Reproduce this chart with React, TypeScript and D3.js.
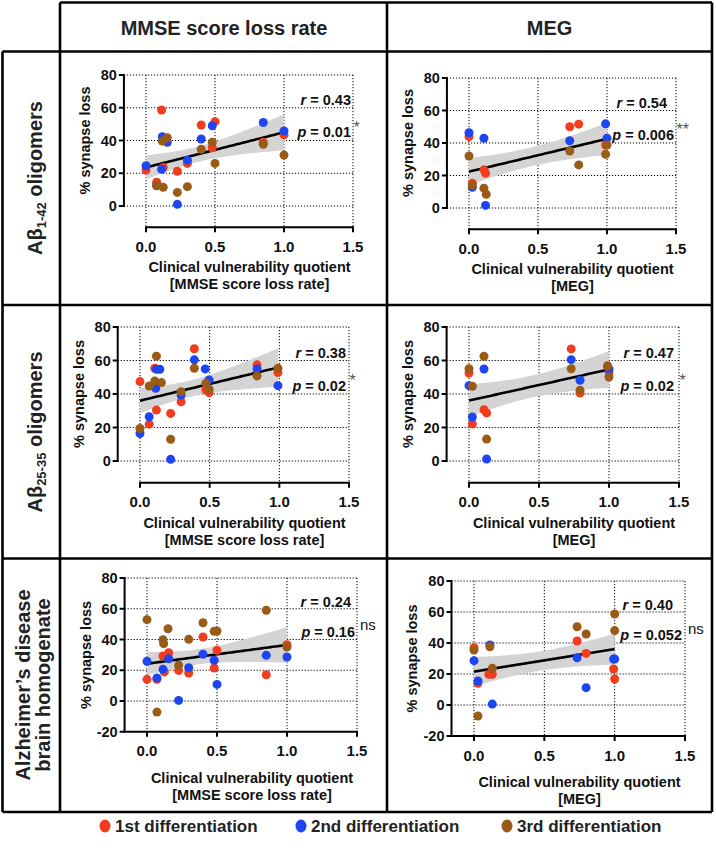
import React from "react";
import * as d3 from "d3";

type Pt = [number, number];

// ---------- labels ----------
const colHeaders = ["MMSE score loss rate", "MEG"];
const xTitleLine1 = "Clinical vulnerability quotient";
const xTitleLine2 = ["[MMSE score loss rate]", "[MEG]"];
const yTitle = "% synapse loss";
const seriesNames = ["1st differentiation", "2nd differentiation", "3rd differentiation"];
const seriesColors = ["#f23c1e", "#1d45f2", "#9a5b17"];
const xTicks = [0, 0.5, 1.0, 1.5];
const yTicksOffset = [0, 20, 40, 60, 80];
const yTicksCrossed = [-20, 0, 20, 40, 60, 80];
const rValues = ["0.43", "0.54", "0.38", "0.47", "0.24", "0.40"];
const pValues = ["0.01", "0.006", "0.02", "0.02", "0.16", "0.052"];
const sigMarks = ["*", "**", "*", "*", "ns", "ns"];

// ---------- data: [clinical vulnerability quotient, % synapse loss] ----------
// Row 1: Aβ1-42 oligomers
const ab42MmseRed: Pt[] = [[0, 22], [0.077, 14.5], [0.113, 58.6], [0.125, 23.5], [0.227, 21.2], [0.3, 26], [0.4, 49.5], [0.48, 35.6], [0.5, 51.5], [0.85, 39], [1.0, 43.4]];
const ab42MmseBlue: Pt[] = [[0, 24.6], [0.077, 12.4], [0.113, 22.4], [0.118, 42.3], [0.154, 38.9], [0.227, 1], [0.3, 28], [0.4, 40.9], [0.48, 49], [0.85, 51], [1.0, 45.8]];
const ab42MmseBrown: Pt[] = [[0.077, 12.8], [0.118, 39.7], [0.125, 11.4], [0.154, 41.7], [0.227, 8.3], [0.3, 11.8], [0.4, 34.6], [0.48, 38.9], [0.5, 26], [0.85, 37.7], [1.0, 31.1]];

const ab42MegRed: Pt[] = [[0, 43.9], [0.024, 15.3], [0.108, 23.5], [0.12, 21.4], [0.73, 50], [0.795, 51.6], [0.99, 38.8]];
const ab42MegBlue: Pt[] = [[0, 46.3], [0.024, 12.7], [0.108, 42.9], [0.12, 1.6], [0.73, 41.4], [0.99, 51.8], [1.0, 42.9]];
const ab42MegBrown: Pt[] = [[0, 32], [0.024, 13.9], [0.108, 12.2], [0.125, 8.4], [0.73, 35.1], [0.795, 26.5], [0.99, 33.1], [1.0, 38.8]];

// Row 2: Aβ25-35 oligomers
const ab25MmseRed: Pt[] = [[0, 47.4], [0.066, 22], [0.106, 55.4], [0.118, 30.4], [0.22, 28.4], [0.295, 35.4], [0.39, 67], [0.473, 42.4], [0.496, 40.8], [0.84, 57.4], [0.99, 52.8]];
const ab25MmseBlue: Pt[] = [[0, 16.4], [0.066, 26.4], [0.113, 43.4], [0.118, 54.8], [0.142, 54.8], [0.22, 1], [0.295, 39.4], [0.39, 60.4], [0.468, 55], [0.496, 48.4], [0.84, 55], [0.99, 45]];
const ab25MmseBrown: Pt[] = [[0, 19.4], [0.066, 44.8], [0.106, 47.8], [0.118, 62.6], [0.154, 46.8], [0.22, 13], [0.295, 41.4], [0.39, 55.4], [0.473, 46.4], [0.496, 42.8], [0.84, 50.8], [0.99, 55.4]];

const ab25MegRed: Pt[] = [[0, 52.5], [0.024, 22.1], [0.107, 30.6], [0.126, 28.7], [0.73, 66.9], [0.793, 40.6], [0.99, 56.9], [1.0, 53]];
const ab25MegBlue: Pt[] = [[0, 45], [0.024, 26.3], [0.107, 54.9], [0.126, 1.2], [0.73, 60.5], [0.793, 48.2], [1.0, 54.9]];
const ab25MegBrown: Pt[] = [[0, 55.1], [0.024, 44.6], [0.107, 62.5], [0.126, 13.1], [0.73, 55.1], [0.793, 42.2], [0.99, 56.5], [1.0, 50.1]];

// Row 3: Alzheimer's disease brain homogenate
const adMmseRed: Pt[] = [[0, 14.1], [0.071, 14.1], [0.114, 29.3], [0.124, 18.9], [0.155, 31.4], [0.226, 19.9], [0.298, 18.2], [0.4, 41.6], [0.48, 21.5], [0.5, 33], [0.852, 17.1], [1.0, 36.6]];
const adMmseBlue: Pt[] = [[0, 25.8], [0.071, 15], [0.114, 20.6], [0.155, 27.5], [0.226, 0.4], [0.298, 21.7], [0.4, 30.4], [0.48, 26.5], [0.5, 10.8], [0.852, 29.7], [1.0, 28.6]];
const adMmseBrown: Pt[] = [[0, 52.9], [0.071, -7.2], [0.114, 39.9], [0.119, 37.3], [0.15, 47], [0.226, 23.2], [0.298, 40.1], [0.4, 50.9], [0.48, 45.3], [0.5, 45.5], [0.852, 59], [1.0, 35.1]];

const adMegRed: Pt[] = [[0, 37], [0.028, 14], [0.106, 19.8], [0.13, 19.8], [0.733, 41.3], [0.797, 33.3], [0.993, 23.2], [1.0, 16.8]];
const adMegBlue: Pt[] = [[0, 28.6], [0.028, 15.5], [0.113, 38.7], [0.13, 0.6], [0.733, 30.5], [0.797, 11.2], [0.993, 29.7], [1.0, 29.7]];
const adMegBrown: Pt[] = [[0, 35.5], [0.028, -7.1], [0.113, 37.6], [0.13, 23.7], [0.733, 50.5], [0.797, 45.8], [1.0, 58.7], [1.0, 48]];

const panelSeries: Pt[][][] = [
  [ab42MmseRed, ab42MmseBlue, ab42MmseBrown],
  [ab42MegRed, ab42MegBlue, ab42MegBrown],
  [ab25MmseRed, ab25MmseBlue, ab25MmseBrown],
  [ab25MegRed, ab25MegBlue, ab25MegBrown],
  [adMmseRed, adMmseBlue, adMmseBrown],
  [adMegRed, adMegBlue, adMegBrown],
];

// ---------- layout ----------
const FONT = "'Liberation Sans', Arial, Helvetica, sans-serif";
const layout = [
  { x0: 146, x15: 353, y0: 206, y80: 75, yMin: -13, crossed: false, rDx: -2, pDx: -2, titleGap: 40 },
  { x0: 469, x15: 676, y0: 208, y80: 78, yMin: -13, crossed: false, rDx: -9, pDx: -2, titleGap: 40 },
  { x0: 140, x15: 349, y0: 461, y80: 327, yMin: -13, crossed: false, rDx: -3, pDx: -3, titleGap: 40 },
  { x0: 469, x15: 679, y0: 461, y80: 327, yMin: -13, crossed: false, rDx: -5, pDx: -5, titleGap: 40 },
  { x0: 147, x15: 357, y0: 701, y80: 578, yMin: -20, crossed: true, rDx: -6, pDx: -2, titleGap: 46 },
  { x0: 474, x15: 685, y0: 705, y80: 581, yMin: -20, crossed: true, rDx: -12, pDx: -3, titleGap: 46 },
];

function regression(points: Pt[]) {
  const n = points.length;
  const mx = d3.mean(points, (p) => p[0]) as number;
  const my = d3.mean(points, (p) => p[1]) as number;
  const sxx = d3.sum(points, (p) => (p[0] - mx) ** 2);
  const sxy = d3.sum(points, (p) => (p[0] - mx) * (p[1] - my));
  const b = sxy / sxx;
  const a = my - b * mx;
  const sse = d3.sum(points, (p) => (p[1] - a - b * p[0]) ** 2);
  const s = Math.sqrt(sse / (n - 2));
  const df = n - 2;
  const t = 1.96 + 2.37 / df + 2.8 / (df * df);
  const [xmin, xmax] = d3.extent(points, (p) => p[0]) as [number, number];
  const xs = d3.range(0, 61).map((i) => xmin + ((xmax - xmin) * i) / 60);
  return xs.map((x) => {
    const se = s * Math.sqrt(1 / n + (x - mx) ** 2 / sxx);
    const yh = a + b * x;
    return { x, yh, lo: yh - t * se, hi: yh + t * se };
  });
}

function Panel({ idx }: { idx: number }) {
  const L = layout[idx];
  const series = panelSeries[idx];
  const col = idx % 2;
  const x = d3.scaleLinear().domain([0, 1.5]).range([L.x0, L.x15]);
  const y = d3.scaleLinear().domain([0, 80]).range([L.y0, L.y80]);
  const axisX = x(-0.16);
  const axisY = y(L.yMin);
  const yTicks = L.crossed ? yTicksCrossed : yTicksOffset;
  const band = regression(series.flat());
  const area = d3
    .area<{ x: number; lo: number; hi: number }>()
    .x((d) => x(d.x))
    .y0((d) => y(d.lo))
    .y1((d) => y(d.hi));
  const line = d3
    .line<{ x: number; yh: number }>()
    .x((d) => x(d.x))
    .y((d) => y(d.yh));
  const dotted = { stroke: "#000", strokeWidth: 1, strokeDasharray: "1.2,1.8" };
  const yMid = L.crossed ? y(30) : y(40);
  const xMid = (x(0) + x(1.5)) / 2;
  const isNs = sigMarks[idx] === "ns";
  return (
    <g fontFamily={FONT}>
      {yTicks
        .filter((v) => !(L.crossed && v === L.yMin))
        .map((v) => (
          <line key={"gy" + v} x1={axisX} x2={x(1.5)} y1={y(v)} y2={y(v)} {...dotted} />
        ))}
      {xTicks.map((v) => (
        <line key={"gx" + v} x1={x(v)} x2={x(v)} y1={y(80)} y2={axisY} {...dotted} />
      ))}
      <path d={area(band) || ""} fill="#d4d4d4" />
      <path d={line(band) || ""} fill="none" stroke="#000" strokeWidth={2.6} />
      {series.map((pts, si) =>
        pts.map((p, pi) => (
          <circle key={si + "-" + pi} cx={x(p[0])} cy={y(p[1])} r={4.5} fill={seriesColors[si]} />
        ))
      )}
      <line x1={axisX} x2={axisX} y1={y(yTicks[0]) + 1} y2={y(80) - 1} stroke="#000" strokeWidth={2} />
      {yTicks.map((v) => (
        <g key={"ty" + v}>
          <line x1={axisX - 5} x2={axisX} y1={y(v)} y2={y(v)} stroke="#000" strokeWidth={2} />
          <text x={axisX - 7} y={y(v)} textAnchor="end" dominantBaseline="central" fontSize={14.5} fontWeight="bold" fill="#111">
            {v}
          </text>
        </g>
      ))}
      <line x1={(L.crossed ? axisX : x(0)) - 1} x2={x(1.5) + 1} y1={axisY} y2={axisY} stroke="#000" strokeWidth={2} />
      {xTicks.map((v) => (
        <g key={"tx" + v}>
          <line x1={x(v)} x2={x(v)} y1={axisY} y2={axisY + 5} stroke="#000" strokeWidth={2} />
          <text x={x(v)} y={axisY + 19} textAnchor="middle" dominantBaseline="central" fontSize={15} fontWeight="bold" fill="#111">
            {d3.format(".1f")(v)}
          </text>
        </g>
      ))}
      <text x={xMid} y={axisY + L.titleGap} textAnchor="middle" dominantBaseline="central" fontSize={14.5} fontWeight="bold" fill="#111">
        {xTitleLine1}
      </text>
      <text x={xMid} y={axisY + L.titleGap + 17} textAnchor="middle" dominantBaseline="central" fontSize={14.5} fontWeight="bold" fill="#111">
        {xTitleLine2[col]}
      </text>
      <text
        transform={`translate(${axisX - 39},${yMid}) rotate(-90)`}
        textAnchor="middle"
        dominantBaseline="central"
        fontSize={14.5}
        fontWeight="bold"
        fill="#111"
      >
        {yTitle}
      </text>
      <text x={x(1.5) + L.rDx} y={y(64.5)} textAnchor="end" dominantBaseline="central" fontSize={14.5} fontWeight="bold" fill="#111">
        <tspan fontStyle="italic">r</tspan> = {rValues[idx]}
      </text>
      <text x={x(1.5) + L.pDx} y={y(45)} textAnchor="end" dominantBaseline="central" fontSize={14.5} fontWeight="bold" fill="#111">
        <tspan fontStyle="italic">p</tspan> = {pValues[idx]}
      </text>
      <text
        x={x(1.5) + (isNs ? 3 : 0.5)}
        y={y(45) - (isNs ? 7 : 5)}
        dominantBaseline="central"
        fontSize={isNs ? 15 : 16}
        fill={isNs ? "#111" : "#555"}
      >
        {sigMarks[idx]}
      </text>
    </g>
  );
}

export default function App() {
  const W = 716;
  const H = 852;
  const rowLines = [51.5, 305, 558.5, 812];
  const border = { stroke: "#000", strokeWidth: 2.6 };
  return (
    <div style={{ position: "absolute", left: 0, top: 0 }}>
      <svg width={W} height={H} style={{ display: "block", background: "#fff" }}>
        <rect x={0} y={0} width={W} height={H} fill="#fff" />
        <line x1={60} x2={712} y1={2.5} y2={2.5} {...border} />
        {rowLines.map((yy) => (
          <line key={yy} x1={2.5} x2={712} y1={yy} y2={yy} {...border} />
        ))}
        <line x1={2.5} x2={2.5} y1={51.5} y2={812} {...border} />
        <line x1={60} x2={60} y1={2.5} y2={812} {...border} />
        <line x1={387} x2={387} y1={2.5} y2={812} {...border} />
        <line x1={712} x2={712} y1={2.5} y2={812} {...border} />
        <text x={224} y={35} textAnchor="middle" fontFamily={FONT} fontWeight="bold" fontSize={20} fill="#222">
          {colHeaders[0]}
        </text>
        <text x={549.5} y={35} textAnchor="middle" fontFamily={FONT} fontWeight="bold" fontSize={20} fill="#222">
          {colHeaders[1]}
        </text>
        <text transform="translate(42,178) rotate(-90)" textAnchor="middle" fontFamily={FONT} fontWeight="bold" fontSize={20} fill="#222">
          Aβ<tspan fontSize={13} dy={4}>1-42</tspan>
          <tspan dy={-4}> oligomers</tspan>
        </text>
        <text transform="translate(42,432) rotate(-90)" textAnchor="middle" fontFamily={FONT} fontWeight="bold" fontSize={20} fill="#222">
          Aβ<tspan fontSize={13} dy={4}>25-35</tspan>
          <tspan dy={-4}> oligomers</tspan>
        </text>
        <text transform="translate(30,685) rotate(-90)" textAnchor="middle" fontFamily={FONT} fontWeight="bold" fontSize={20} fill="#222">
          Alzheimer’s disease
        </text>
        <text transform="translate(50,685) rotate(-90)" textAnchor="middle" fontFamily={FONT} fontWeight="bold" fontSize={20} fill="#222">
          brain homogenate
        </text>
        {layout.map((_, i) => (
          <Panel key={i} idx={i} />
        ))}
        {seriesNames.map((name, i) => {
          const lx = [105, 301, 507][i];
          return (
            <g key={name}>
              <ellipse cx={lx} cy={826} rx={5.5} ry={6.5} fill={seriesColors[i]} />
              <text x={lx + 10} y={832} fontFamily={FONT} fontWeight="bold" fontSize={17} fill="#222">
                {name}
              </text>
            </g>
          );
        })}
      </svg>
    </div>
  );
}
